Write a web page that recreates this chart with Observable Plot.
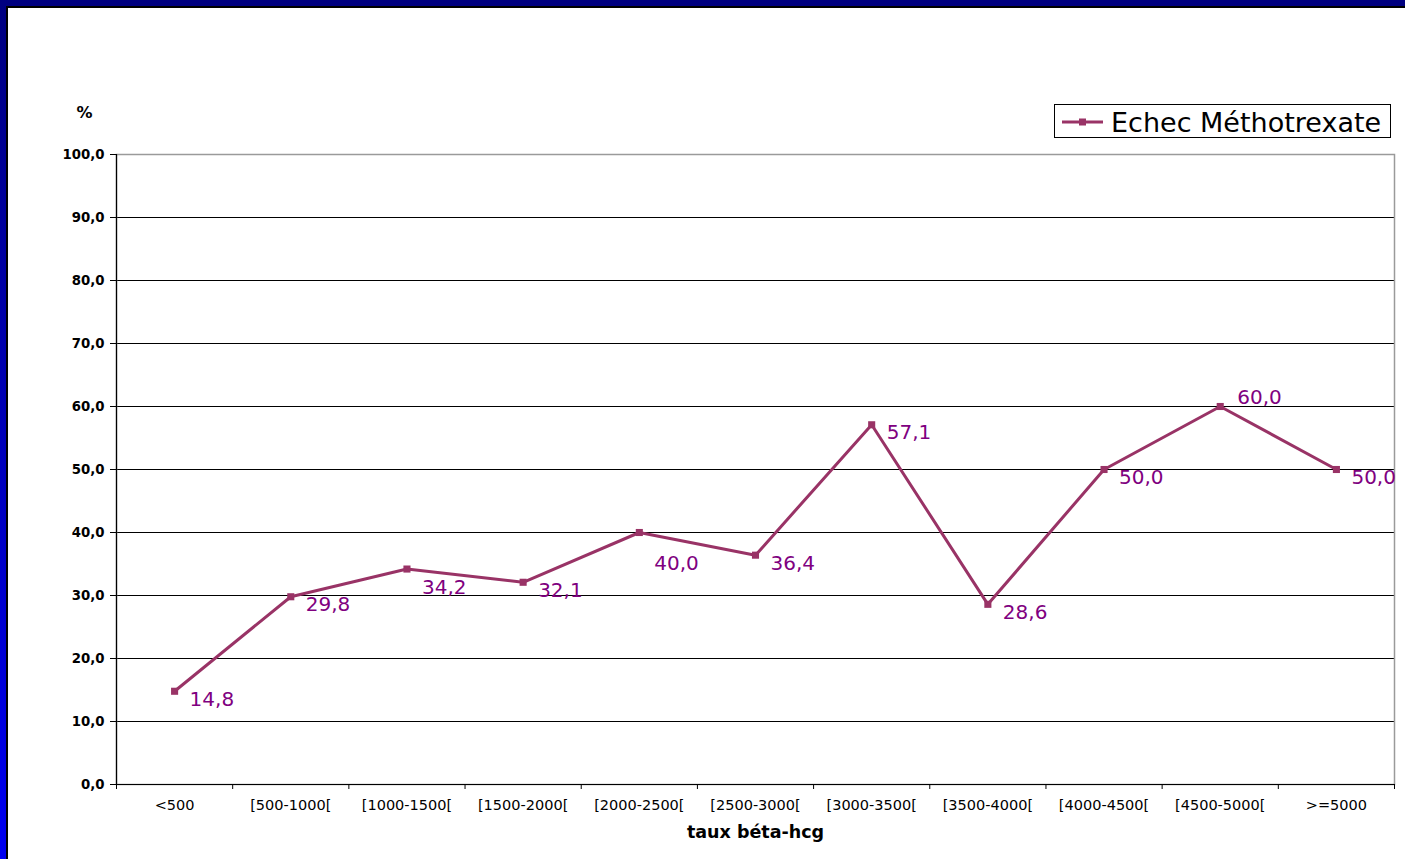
<!DOCTYPE html>
<html><head><meta charset="utf-8">
<script src="https://cdn.jsdelivr.net/npm/d3@7"></script>
<script src="https://cdn.jsdelivr.net/npm/@observablehq/plot@0.6"></script>
<style>
html,body{margin:0;padding:0;}
body{width:1405px;height:859px;overflow:hidden;background:linear-gradient(#000080,#0000f0);position:relative;font-family:"DejaVu Sans",sans-serif;color:#000;}
#sheet{position:absolute;left:6px;top:6px;right:0;bottom:0;background:#fff;border-left:2px solid #000;border-top:2px solid #000;}
#chart{position:absolute;left:0;top:0;}
#legend{position:absolute;left:1054px;top:104px;width:335px;height:32px;border:1px solid #000;background:#fff;}
#legend svg{position:absolute;left:0;top:0;}
#legend span{position:absolute;left:56px;top:2px;line-height:32px;font-size:27px;white-space:nowrap;}
</style></head><body>
<div id="sheet"></div>
<div id="chart"></div>
<div id="legend"><svg width="60" height="32"><line x1="7" y1="17" x2="48" y2="17" stroke="#993366" stroke-width="3"/><rect x="24" y="13.5" width="7" height="7" fill="#993366"/></svg><span id="legtext"></span></div>
<script>
const categories = ["<500","[500-1000[","[1000-1500[","[1500-2000[","[2000-2500[","[2500-3000[","[3000-3500[","[3500-4000[","[4000-4500[","[4500-5000[",">=5000"];
const values = [14.8, 29.8, 34.2, 32.1, 40.0, 36.4, 57.1, 28.6, 50.0, 60.0, 50.0];
const yTicks = [0,10,20,30,40,50,60,70,80,90,100];
const seriesName = "Echec Méthotrexate";
const xTitle = "taux béta-hcg";
const yTitle = "%";

document.getElementById("legtext").textContent = seriesName;

// label placement tweaks (style only): vertical offset of some value labels
const labelShift = {"[1000-1500[": 19, "[2000-2500[": 31, "[4500-5000[": -9};

const n = categories.length;
const data = categories.map((c, i) => ({cat: c, pos: i + 0.5, v: values[i]}));
const fmt = d => d.toFixed(1).replace(".", ",");
const lineColor = "#993366";
const labelColor = "#800080";
const labelOpts = {x: "pos", y: "v", text: d => fmt(d.v), fill: labelColor, fontSize: 20, textAnchor: "start", lineAnchor: "middle", dx: 15};
const shifts = [...new Set(data.map(d => labelShift[d.cat] ?? 8))];

const plot = Plot.plot({
  width: 1405, height: 859,
  marginLeft: 116, marginRight: 11, marginTop: 154, marginBottom: 75,
  style: {background: "transparent", fontFamily: "DejaVu Sans", color: "#000", overflow: "visible"},
  x: {type: "linear", domain: [0, n], axis: null},
  y: {domain: [0, 100], axis: null},
  marks: [
    Plot.ruleY(yTicks.filter(t => t > 0 && t < 100), {stroke: "#000", strokeWidth: 1}),
    Plot.frame({stroke: "#9a9a9a", strokeWidth: 1.5}),
    Plot.ruleY([0], {stroke: "#000", strokeWidth: 1.2}),
    Plot.ruleX([0], {stroke: "#000", strokeWidth: 1.2}),
    Plot.axisY({ticks: yTicks, tickSize: 6, tickPadding: 6, tickFormat: fmt, fontSize: 13.3, fontWeight: "bold", label: null, stroke: "#000", fill: "#000"}),
    Plot.axisX({ticks: d3.range(n + 1), tickSize: 5, tickFormat: () => "", label: null, stroke: "#000"}),
    Plot.axisX({ticks: categories.map((c, i) => i + 0.5), tickSize: 0, tickPadding: 15, tickFormat: d => categories[Math.floor(d)], fontSize: 14.5, label: null, fill: "#000"}),
    Plot.line(data, {x: "pos", y: "v", stroke: lineColor, strokeWidth: 3}),
    Plot.dot(data, {x: "pos", y: "v", symbol: "square", r: 4, fill: lineColor, stroke: null}),
    ...shifts.map(s => Plot.text(data.filter(d => (labelShift[d.cat] ?? 8) === s), {...labelOpts, dx: s < 0 ? 17 : 15, dy: s})),
    Plot.text([xTitle], {text: d => d, frameAnchor: "bottom", textAnchor: "middle", lineAnchor: "middle", dy: 48, fontWeight: "bold", fontSize: 17.5, fill: "#000"}),
    Plot.text([yTitle], {text: d => d, frameAnchor: "top-left", textAnchor: "middle", lineAnchor: "middle", dx: -32, dy: -42, fontWeight: "bold", fontSize: 16, fill: "#000"})
  ]
});
document.getElementById("chart").appendChild(plot);
</script>
</body></html>
